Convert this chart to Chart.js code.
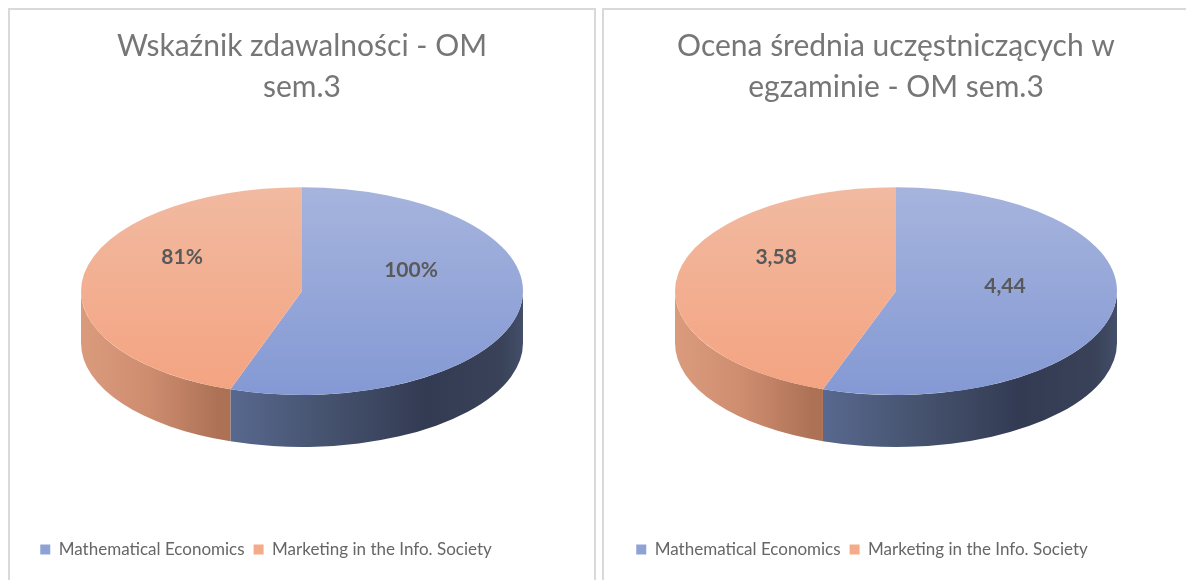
<!DOCTYPE html>
<html><head><meta charset="utf-8">
<script src="https://cdn.jsdelivr.net/npm/chart.js@4.4.0/dist/chart.umd.min.js"></script>
<style>
html,body{margin:0;padding:0;background:#fff;overflow:hidden;width:1186px;height:580px}
.panel{position:absolute;top:8px;width:588px;height:620px;border:2px solid #d9d9d9;box-sizing:border-box;background:#fff}
.panel canvas{position:absolute;left:0;top:0}
</style></head>
<body>
<div class="panel" style="left:8px"><canvas id="c1" width="584" height="570"></canvas></div>
<div class="panel" style="left:602px"><canvas id="c2" width="584" height="570"></canvas></div>
<script>
const categories = ['Mathematical Economics', 'Marketing in the Info. Society'];
const passRate = [100, 81];
const avgGrade = [4.44, 3.58];
const title1 = ['Wskaźnik zdawalności - OM', 'sem.3'];
const title2 = ['Ocena średnia uczęstniczących w', 'egzaminie - OM sem.3'];
const fmtPct = v => v + '%';
const fmtDec = v => v.toFixed(2).replace('.', ',');

const topColors = [['#a6b4dd', '#8499d4'], ['#f1baa1', '#f4a380']];
const sideStops = [
  [[0, '#7284b2'], [0.3, '#5b6c94'], [0.55, '#46536f'], [0.78, '#333b53'], [0.95, '#394258'], [1, '#434e69']],
  [[0, '#da9b7d'], [0.15, '#cf8d70'], [0.31, '#ad7256'], [1, '#a06048']]
];
const legendColors = ['#8fa2d6', '#f4ab88'];

const pie3d = {
  id: 'pie3d',
  afterLayout(chart, args, o) {
    if (chart.legend) { chart.legend.left += o.legendDx; chart.legend.right += o.legendDx; }
  },
  beforeDatasetsDraw(chart, args, o) {
    const ctx = chart.ctx;
    const arcs = chart.getDatasetMeta(0).data;
    if (!arcs.length) return;
    const cx = arcs[0].x, cy0 = arcs[0].y, R = arcs[0].outerRadius;
    const k = o.tilt, d = o.depth, cy = cy0 + o.shift, ry = R * k;
    chart.$p3 = {cx, cy0, cy, R, ry, k};
    arcs.forEach((arc, i) => {
      const g = ctx.createLinearGradient(cx - R, 0, cx + R, 0);
      sideStops[i].forEach(s => g.addColorStop(s[0], s[1]));
      [[0, Math.PI], [2 * Math.PI, 3 * Math.PI]].forEach(([lo, hi]) => {
        const a = Math.max(arc.startAngle, lo), b = Math.min(arc.endAngle, hi);
        if (b <= a) return;
        ctx.beginPath();
        ctx.ellipse(cx, cy, R, ry, 0, a, b, false);
        ctx.ellipse(cx, cy + d, R, ry, 0, b, a, true);
        ctx.closePath();
        ctx.fillStyle = g;
        ctx.fill();
      });
    });
    arcs.forEach((arc, i) => {
      const g = ctx.createLinearGradient(0, cy0 - R, 0, cy0 + R);
      g.addColorStop(0, topColors[i][0]);
      g.addColorStop(1, topColors[i][1]);
      arc.options.backgroundColor = g;
      arc.options.borderWidth = 0;
    });
    ctx.save();
    ctx.translate(cx, cy);
    ctx.scale(1, k);
    ctx.translate(-cx, -cy0);
  },
  afterDatasetsDraw(chart, args, o) {
    const ctx = chart.ctx;
    ctx.restore();
    const p = chart.$p3;
    if (!p) return;
    const arcs = chart.getDatasetMeta(0).data;
    const vals = chart.data.datasets[0].data;
    ctx.save();
    ctx.font = 'bold 21px Lato';
    ctx.fillStyle = '#595959';
    ctx.textAlign = 'center';
    ctx.textBaseline = 'middle';
    arcs.forEach((arc, i) => {
      const m = (arc.startAngle + arc.endAngle) / 2;
      const x = p.cx + p.R * o.labelR[i] * Math.cos(m);
      const y = p.cy + p.ry * o.labelR[i] * Math.sin(m) + o.labelDy[i];
      ctx.fillText(o.fmt(vals[i]), x, y);
    });
    ctx.restore();
  }
};

function make(id, title, values, fmt, labelDy, legendDx) {
  return new Chart(document.getElementById(id), {
    type: 'pie',
    data: {
      labels: categories,
      datasets: [{ data: values, backgroundColor: legendColors, borderWidth: 0, radius: 221, clip: false }]
    },
    options: {
      responsive: false,
      animation: false,
      events: [],
      layout: { padding: { top: 0, bottom: 12, left: 0, right: 0 } },
      plugins: {
        title: {
          display: true, text: title, color: '#767676',
          font: { family: 'Lato', size: 30, weight: 'normal', lineHeight: 1.37 },
          padding: { top: 16, bottom: 10 }
        },
        legend: {
          position: 'bottom',
          labels: { color: '#666', boxWidth: 10, boxHeight: 10, padding: 9,
            font: { family: 'Lato', size: 17 } }
        },
        tooltip: { enabled: false },
        pie3d: { tilt: 0.47, depth: 52, shift: -34, labelR: [0.5, 0.55], labelDy: labelDy, fmt: fmt, legendDx: legendDx }
      }
    },
    plugins: [pie3d]
  });
}
make('c1', title1, passRate, fmtPct, [-29, -24], -36);
make('c2', title2, avgGrade, fmtDec, [-14, -24], -34);
</script>
</body></html>
